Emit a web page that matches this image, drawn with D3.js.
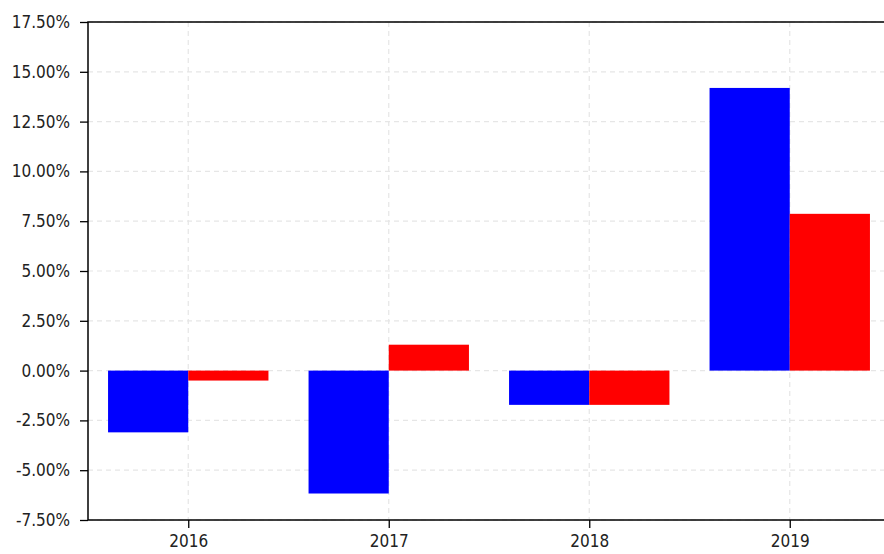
<!DOCTYPE html>
<html>
<head>
<meta charset="UTF-8">
<script src="https://d3js.org/d3.v7.min.js"></script>
<style>
 body {margin: 0; background: #fff;}
 svg {display: block;}
 .tick text {font-family: "DejaVu Sans Condensed", "DejaVu Sans", sans-serif; font-stretch: condensed; font-size: 17px; fill: #222;}
 .grid line {stroke: #e6e6e6; stroke-width: 1.2; stroke-dasharray: 5,4;}
</style>
</head>
<body>
<svg id="chart" width="884" height="554"></svg>
<script>
const years = ['2016', '2017', '2018', '2019'];
const blueVals = [-3.10, -6.17, -1.72, 14.19];
const redVals = [-0.50, 1.30, -1.72, 7.87];
const yTicks = [-7.5, -5, -2.5, 0, 2.5, 5, 7.5, 10, 12.5, 15, 17.5];

const svg = d3.select('#chart');
const mLeft = 88, mRight = 890, mTop = 22, mBottom = 520;

// categories sit at integer positions, axis runs from -0.5 to 3.5
const x = d3.scaleLinear().domain([-0.5, years.length - 0.5]).range([mLeft, mRight]);
const y = d3.scaleLinear().domain([-7.5, 17.5]).range([mBottom, mTop]);
const barW = 0.4;

// grid
const grid = svg.append('g').attr('class', 'grid');
grid.selectAll('.gy').data(yTicks).enter().append('line')
  .attr('x1', mLeft).attr('x2', mRight)
  .attr('y1', d => y(d)).attr('y2', d => y(d));
grid.selectAll('.gx').data(years).enter().append('line')
  .attr('x1', (d, i) => x(i)).attr('x2', (d, i) => x(i))
  .attr('y1', mTop).attr('y2', mBottom);

// bars
svg.append('g').selectAll('rect').data(blueVals).enter().append('rect')
  .attr('x', (d, i) => x(i - barW))
  .attr('width', x(barW) - x(0))
  .attr('y', d => y(Math.max(0, d)))
  .attr('height', d => Math.abs(y(d) - y(0)))
  .attr('fill', '#0000ff');
svg.append('g').selectAll('rect').data(redVals).enter().append('rect')
  .attr('x', (d, i) => x(i))
  .attr('width', x(barW) - x(0))
  .attr('y', d => y(Math.max(0, d)))
  .attr('height', d => Math.abs(y(d) - y(0)))
  .attr('fill', '#ff0000');

// axes
const yAxis = d3.axisLeft(y).tickValues(yTicks).tickSize(8).tickPadding(10)
  .tickFormat(d => d.toFixed(2) + '%');
const gy = svg.append('g').attr('transform', `translate(${mLeft},0)`).call(yAxis);
const xAxis = d3.axisBottom(x).tickValues(d3.range(years.length)).tickSize(8).tickPadding(7)
  .tickFormat(i => years[i]);
const gx = svg.append('g').attr('transform', `translate(0,${mBottom})`).call(xAxis);

[gy, gx].forEach(g => {
  g.select('.domain').remove();
  g.selectAll('.tick line').attr('stroke', '#000').attr('stroke-width', 1.3);
});

// spines
svg.append('rect')
  .attr('x', mLeft).attr('y', mTop)
  .attr('width', mRight - mLeft).attr('height', mBottom - mTop)
  .attr('fill', 'none').attr('stroke', '#000').attr('stroke-width', 1.5);
</script>
</body>
</html>
